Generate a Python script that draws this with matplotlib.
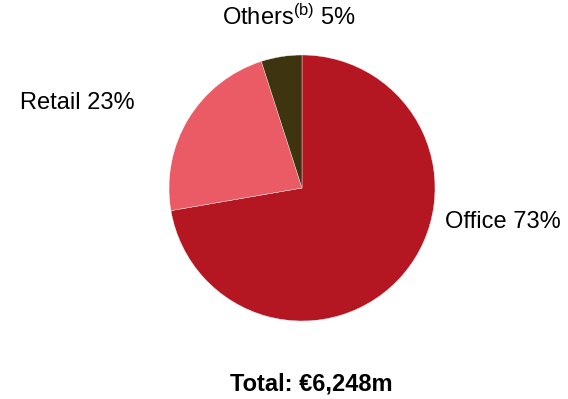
import matplotlib
matplotlib.use("Agg")
import matplotlib.pyplot as plt

plt.rcParams['font.family'] = ['Liberation Sans', 'DejaVu Sans']
plt.rcParams['mathtext.fontset'] = 'custom'
plt.rcParams['mathtext.rm'] = 'Liberation Sans'
plt.rcParams['mathtext.it'] = 'Liberation Sans'

# data
segments = ['Office', 'Retail', 'Others']
shares = [73, 23, 5]
colors = ['#B51722', '#EA5B66', '#3E3510']
total_label = 'Total: €6,248m'

W, H = 568, 399
fig = plt.figure(figsize=(W / 100, H / 100), dpi=100)

# pie axes: centre ~(302,188) px, radius ~133 px
cx, cy, r = 302, 188, 133
ax = fig.add_axes([(cx - r) / W, (H - cy - r) / H, 2 * r / W, 2 * r / H])
ax.pie(shares, colors=colors, startangle=90, counterclock=False, radius=1,
       wedgeprops=dict(linewidth=0.25, edgecolor='white'))
ax.set_xlim(-1, 1)
ax.set_ylim(-1, 1)
ax.axis('off')

def px(x, y):
    return x / W, 1 - y / H

fs = 17
fig.text(*px(289, 17), r'Others$^{\mathrm{(b)}}$ ' + f'{shares[2]}%',
         ha='center', va='center', fontsize=fs)
fig.text(*px(20, 103), f'{segments[1]} {shares[1]}%',
         ha='left', va='center', fontsize=fs)
fig.text(*px(445, 222), f'{segments[0]} {shares[0]}%',
         ha='left', va='center', fontsize=fs)
fig.text(*px(311, 384), total_label, ha='center', va='center',
         fontsize=fs, fontweight='bold')

fig.savefig('out.png', dpi=100)
